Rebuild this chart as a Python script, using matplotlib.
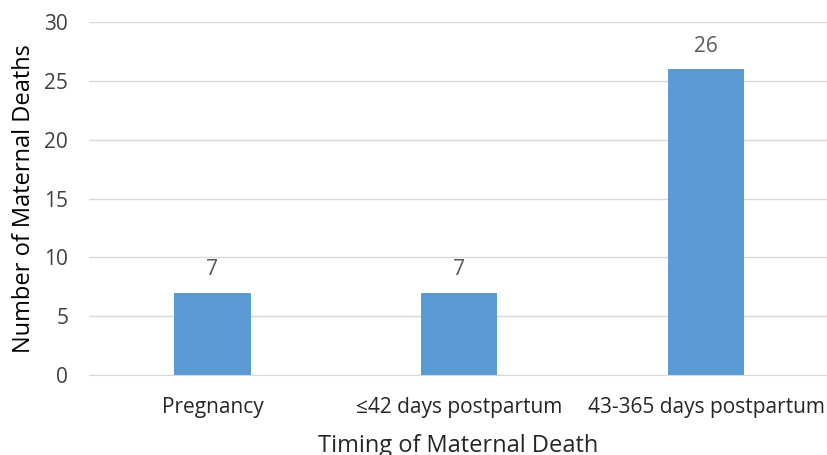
import matplotlib.pyplot as plt
import numpy as np

plt.rcParams['font.family'] = ['Open Sans', 'DejaVu Sans']

# data
categories = ["Pregnancy", "\u226442 days postpartum", "43-365 days postpartum"]
deaths = [7, 7, 26]

fig = plt.figure(figsize=(8.27, 4.55), dpi=100)
ax = fig.add_axes([0.1076, 0.1758, 0.8924, 0.7758])

x = np.arange(len(categories))
bars = ax.bar(x, deaths, width=0.31, color='#5B9BD5', zorder=3)

for b, v in zip(bars, deaths):
    ax.annotate(str(v), (b.get_x() + b.get_width() / 2, v), xytext=(0, 9),
                textcoords='offset points', ha='center', va='bottom',
                fontsize=15, color='#595959')

ax.set_xlim(-0.5, 2.49)
ax.set_ylim(0, 30)
ax.set_yticks(range(0, 31, 5))
ax.set_xticks(x)
ax.set_xticklabels(categories)
ax.yaxis.grid(True, color='#D9D9D9', linewidth=1, zorder=0)

for s in ['top', 'right', 'left']:
    ax.spines[s].set_visible(False)
ax.spines['bottom'].set_color('#D9D9D9')

ax.tick_params(axis='y', length=0, pad=15, labelsize=15, labelcolor='#404040')
ax.tick_params(axis='x', length=0, pad=16, labelsize=15, labelcolor='#262626')

ax.set_ylabel('Number of Maternal Deaths', fontsize=17, color='#000000', labelpad=6)
ax.set_xlabel('Timing of Maternal Death', fontsize=17, color='#262626', labelpad=11)

plt.savefig('out.png', dpi=100)
